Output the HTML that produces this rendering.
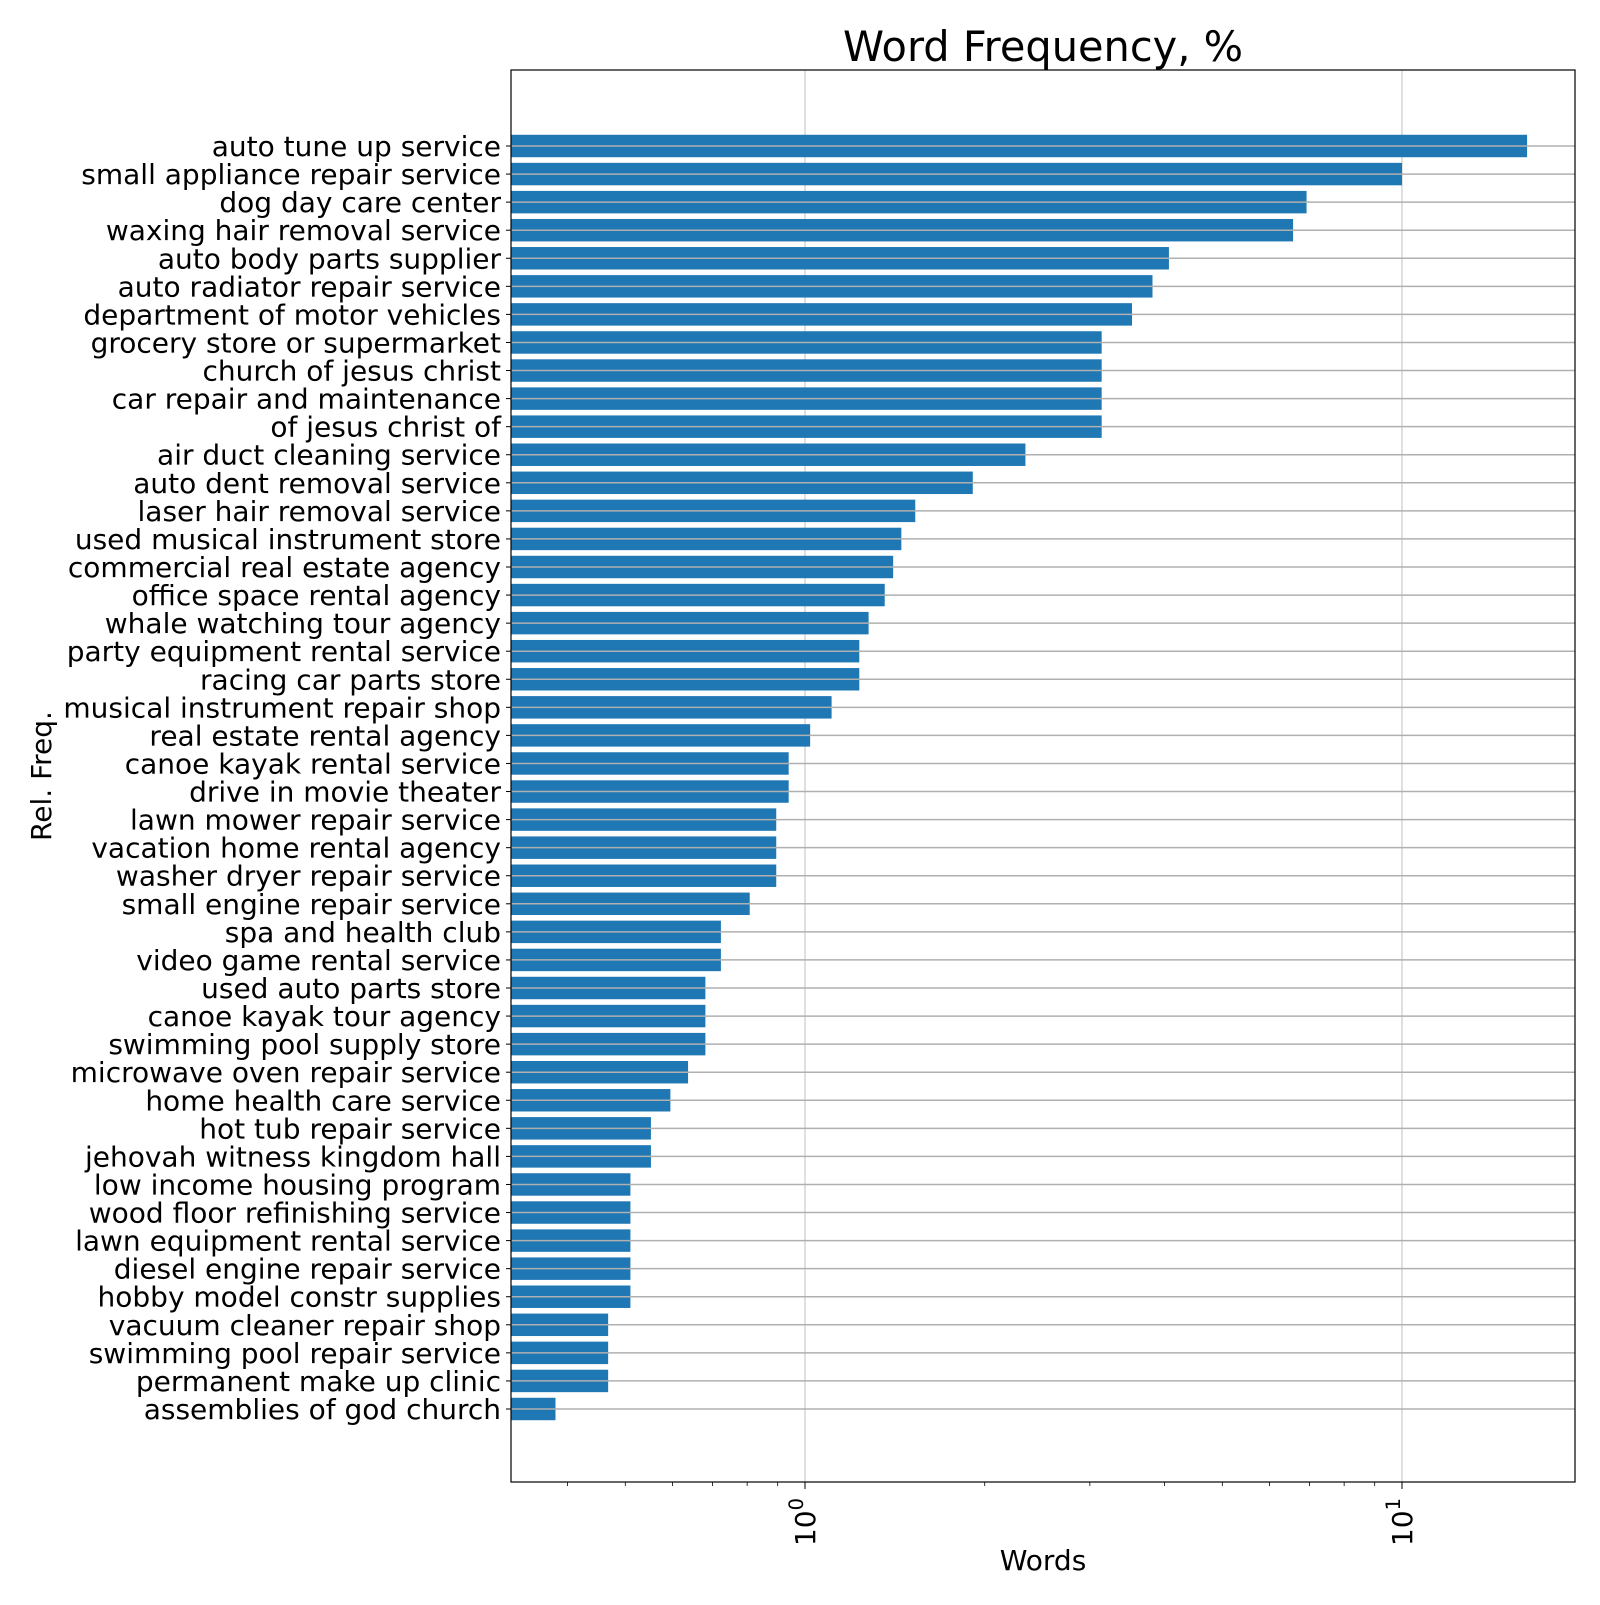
<!DOCTYPE html>
<html><head><meta charset="utf-8"><style>
body{margin:0;background:#fff}
svg text{font-family:"DejaVu Sans","Liberation Sans",sans-serif;fill:#000}
</style></head><body>
<svg id="chart" width="1600" height="1600" xmlns="http://www.w3.org/2000/svg">
<rect width="1600" height="1600" fill="#fff"/>
<g id="grid"></g><g id="bars"></g><g id="axes"></g>
</svg>
<script>
const categories=["auto tune up service","small appliance repair service","dog day care center","waxing hair removal service","auto body parts supplier","auto radiator repair service","department of motor vehicles","grocery store or supermarket","church of jesus christ","car repair and maintenance","of jesus christ of","air duct cleaning service","auto dent removal service","laser hair removal service","used musical instrument store","commercial real estate agency","office space rental agency","whale watching tour agency","party equipment rental service","racing car parts store","musical instrument repair shop","real estate rental agency","canoe kayak rental service","drive in movie theater","lawn mower repair service","vacation home rental agency","washer dryer repair service","small engine repair service","spa and health club","video game rental service","used auto parts store","canoe kayak tour agency","swimming pool supply store","microwave oven repair service","home health care service","hot tub repair service","jehovah witness kingdom hall","low income housing program","wood floor refinishing service","lawn equipment rental service","diesel engine repair service","hobby model constr supplies","vacuum cleaner repair shop","swimming pool repair service","permanent make up clinic","assemblies of god church"];
const values=[16.2,10.0,6.92,6.57,4.07,3.82,3.53,3.14,3.14,3.14,3.14,2.34,1.91,1.53,1.45,1.405,1.36,1.278,1.233,1.233,1.108,1.02,0.939,0.939,0.895,0.895,0.895,0.808,0.723,0.723,0.681,0.681,0.681,0.637,0.595,0.552,0.552,0.51,0.51,0.51,0.51,0.51,0.468,0.468,0.468,0.382];
const xTickValues=[1,10];
const xTickExps=["0","1"];
const NS="http://www.w3.org/2000/svg";
const L=511,R=1575,T=70,B=1482,X0=805,DEC=597;
const xMinLog=(L-X0)/DEC;
function xs(v){return X0+Math.log10(v)*DEC;}
const y0=146,step=(1409-146)/45;
function ys(i){return y0+i*step;}
const bh=step*0.8;
function mk(tag,attrs,parent){const e=document.createElementNS(NS,tag);for(const k in attrs)e.setAttribute(k,attrs[k]);parent.appendChild(e);return e;}
const grid=document.getElementById('grid'),bars=document.getElementById('bars'),axes=document.getElementById('axes');
xTickValues.forEach((v,i)=>{const g=mk('line',{x1:xs(v),x2:xs(v),y1:T,y2:B,stroke:'#b0b0b0','stroke-width':0.8},grid);

});
categories.forEach((c,i)=>{
 const y=ys(i);
 const r=mk('rect',{x:L,y:y-bh/2,width:Math.max(0,xs(values[i])-L),height:bh,fill:'#1f77b4'},bars);
 
 
 const g=mk('line',{x1:L,x2:R,y1:y,y2:y,stroke:'#b0b0b0','stroke-width':1.5},bars);
 
 
 mk('line',{x1:L-5,x2:L,y1:y,y2:y,stroke:'#000','stroke-width':1},axes);
 const t=mk('text',{x:L-10,y:y+10,'text-anchor':'end','font-size':28},axes);
 t.textContent=c;
 
 
});
for(let d=-1;d<=1;d++){for(let m=2;m<=9;m++){const v=m*Math.pow(10,d);const lx=Math.log10(v);if(lx<xMinLog||xs(v)>R)continue;mk('line',{x1:xs(v),x2:xs(v),y1:B,y2:B+4,stroke:'#000','stroke-width':0.8},axes);}}
xTickValues.forEach((v,i)=>{const x=xs(v);mk('line',{x1:x,x2:x,y1:B,y2:B+7,stroke:'#000','stroke-width':1},axes);
 const t=mk('text',{transform:`translate(${x+10},${B+16}) rotate(-90)`,'text-anchor':'end','font-size':28},axes);
 t.innerHTML='10<tspan dy="-12" font-size="19.5">'+xTickExps[i]+'</tspan>';
 
 });
const fr=mk('rect',{x:L,y:T,width:R-L,height:B-T,fill:'none',stroke:'#000','stroke-width':1.2},axes);


const title=mk('text',{x:(L+R)/2,y:T-9,'text-anchor':'middle','font-size':41.5},axes);title.textContent='Word Frequency, %';


const xl=mk('text',{x:(L+R)/2,y:1570,'text-anchor':'middle','font-size':28},axes);xl.textContent='Words';


const yl=mk('text',{transform:`translate(51,${(T+B)/2}) rotate(-90)`,'text-anchor':'middle','font-size':28},axes);yl.textContent='Rel. Freq.';


</script>
</body></html>
